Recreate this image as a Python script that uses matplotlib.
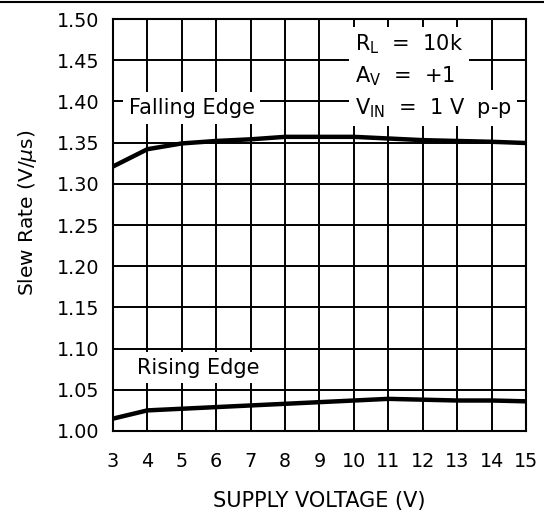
import matplotlib.pyplot as plt
from matplotlib.lines import Line2D

plt.rcParams['font.family'] = ['DejaVu Sans']

supply_v = [3, 4, 5, 6, 7, 8, 9, 10, 11, 12, 13, 14, 15]

falling = [1.321, 1.342, 1.349, 1.352, 1.354, 1.357, 1.357,
           1.357, 1.355, 1.353, 1.352, 1.351, 1.3495]

rising = [1.015, 1.025, 1.027, 1.029, 1.031, 1.033, 1.035,
          1.037, 1.039, 1.038, 1.037, 1.037, 1.036]

x_ticks = list(range(3, 16))
y_ticks = [1.00, 1.05, 1.10, 1.15, 1.20, 1.25, 1.30, 1.35, 1.40, 1.45, 1.50]

fig = plt.figure(figsize=(5.44, 5.14), dpi=100)
ax = fig.add_axes([0.2077, 0.1615, 0.7592, 0.8015])

ax.plot(supply_v, falling, color="black", lw=3.2, zorder=4)
ax.plot(supply_v, rising, color="black", lw=3.2, zorder=4)

ax.set_xlim(3, 15)
ax.set_ylim(1.00, 1.50)
ax.set_xticks(x_ticks)
ax.set_yticks(y_ticks)
ax.set_yticklabels([f"{v:.2f}" for v in y_ticks])
ax.tick_params(length=0, labelsize=13.8)
ax.tick_params(axis="x", pad=15)
ax.tick_params(axis="y", pad=10)
ax.grid(True, color="black", lw=1.4)
for s in ax.spines.values():
    s.set_linewidth(1.5)

ax.set_xlabel("SUPPLY VOLTAGE (V)", fontsize=15)
ax.xaxis.set_label_coords(0.5, -0.145)
ax.set_ylabel("Slew Rate (V/$\\mu$s)", fontsize=14.5)
ax.yaxis.set_label_coords(-0.18, 0.53)

box = dict(facecolor="white", edgecolor="none", pad=4)
ax.text(3.46, 1.392, "Falling Edge", fontsize=15, va="center", ha="left", bbox=box, zorder=3)
ax.text(3.70, 1.077, "Rising Edge", fontsize=15, va="center", ha="left", bbox=box, zorder=3)
ax.text(10.03, 1.469, "R$_\\mathregular{L}$  =  10k", fontsize=15, va="center", ha="left", bbox=box, zorder=3)
ax.text(10.03, 1.431, "A$_\\mathregular{V}$  =  +1", fontsize=15, va="center", ha="left", bbox=box, zorder=3)
ax.text(10.03, 1.392, "V$_\\mathregular{IN}$  =  1 V  p-p", fontsize=15, va="center", ha="left", bbox=box, zorder=3)

fig.add_artist(Line2D([0, 1], [0.996, 0.996], color="black", lw=1.5))

fig.savefig("out.png", dpi=100)
